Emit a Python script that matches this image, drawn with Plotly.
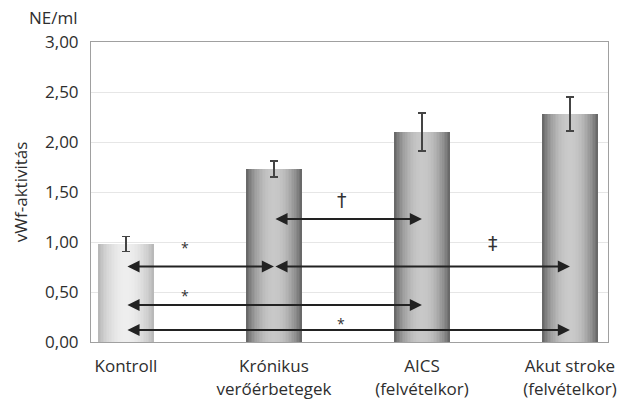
import plotly.graph_objects as go

# ---- data ----
categories = ["Kontroll", "Krónikus<br>verőérbetegek", "AICS<br>(felvételkor)", "Akut stroke<br>(felvételkor)"]
positions = [0, 1, 2, 3]
values = [0.98, 1.73, 2.10, 2.28]
errors = [0.075, 0.08, 0.19, 0.17]

y_tickvals = [0, 0.5, 1.0, 1.5, 2.0, 2.5, 3.0]
y_ticktext = ["0,00", "0,50", "1,00", "1,50", "2,00", "2,50", "3,00"]

# comparison arrows (from category index, to category index, height)
comp_from = [1, 0, 1, 0, 0]
comp_to = [2, 1, 3, 2, 3]
comp_y = [1.23, 0.755, 0.755, 0.37, 0.12]

# significance symbols
sig_text = ["*", "*", "*", "†", "‡"]
sig_x = [0.40, 0.40, 1.45, 1.46, 2.48]
sig_y = [0.99, 0.51, 0.23, 1.42, 0.99]

# ---- style ----
FONT = "Open Sans"
TXT = "#2e2e2e"
FS = 17
bar_width = 0.375
edge_levels = [185, 105, 105, 105]     # grey level at bar edges
center_levels = [238, 200, 200, 202]   # grey level at bar centre
n_layers = 18

fig = go.Figure()

for k in range(n_layers):
    frac = 1.0 - k / n_layers
    colors = []
    for e, c in zip(edge_levels, center_levels):
        g = int(round(c + (e - c) * frac ** 2.2))
        colors.append(f"rgb({g},{g},{g})")
    last = (k == n_layers - 1)
    fig.add_trace(go.Bar(
        x=positions, y=values,
        width=bar_width * frac,
        marker=dict(color=colors, line=dict(width=0)),
        error_y=dict(type="data", array=errors, visible=True,
                     color="#444444", thickness=1.5, width=4) if last else None,
        showlegend=False, hoverinfo="skip",
    ))

annotations = []
for a, b, yv in zip(comp_from, comp_to, comp_y):
    annotations.append(dict(
        x=b, y=yv, ax=a, ay=yv, xref="x", yref="y", axref="x", ayref="y",
        text="", showarrow=True, arrowside="end+start",
        arrowhead=2, startarrowhead=2, arrowsize=1.35, startarrowsize=1.35,
        arrowwidth=1.8, arrowcolor="#222222", standoff=0, startstandoff=0,
    ))

for t, xv, yv in zip(sig_text, sig_x, sig_y):
    annotations.append(dict(
        x=xv, y=yv, xref="x", yref="y", text=t, showarrow=False,
        font=dict(family="DejaVu Sans" if t != "*" else FONT,
                  size=19 if t != "*" else 14, color="#333333"),
        yshift=-4 if t == "*" else 0,
    ))

annotations.append(dict(
    x=-0.021, y=1.082, xref="paper", yref="paper", text="NE/ml",
    showarrow=False, xanchor="right", yanchor="middle",
    font=dict(family=FONT, size=FS, color=TXT),
))
annotations.append(dict(
    x=-0.137, y=0.5, xref="paper", yref="paper", text="vWf-aktivitás",
    showarrow=False, textangle=-90, xanchor="center", yanchor="middle",
    font=dict(family=FONT, size=FS, color=TXT),
))

fig.update_layout(
    width=635, height=400,
    margin=dict(l=91, r=27, t=42, b=58),
    paper_bgcolor="white", plot_bgcolor="white",
    barmode="overlay", bargap=0,
    font=dict(family=FONT, size=FS, color=TXT),
    annotations=annotations,
    xaxis=dict(
        range=[-0.236, 3.257], tickvals=positions, ticktext=categories,
        showgrid=False, zeroline=False, showline=True, mirror=True,
        linecolor="#a0a0a0", linewidth=1, ticks="", ticklabelstandoff=9,
        automargin=False,
        tickfont=dict(family=FONT, size=FS, color=TXT),
    ),
    yaxis=dict(
        range=[0, 3.0], tickvals=y_tickvals, ticktext=y_ticktext,
        showgrid=True, gridcolor="#e6e6e6", gridwidth=1, zeroline=False,
        showline=True, mirror=True, linecolor="#a0a0a0", linewidth=1,
        ticks="", ticklabelstandoff=8, automargin=False,
        tickfont=dict(family=FONT, size=FS, color=TXT),
    ),
)

fig.write_html("out.html")
